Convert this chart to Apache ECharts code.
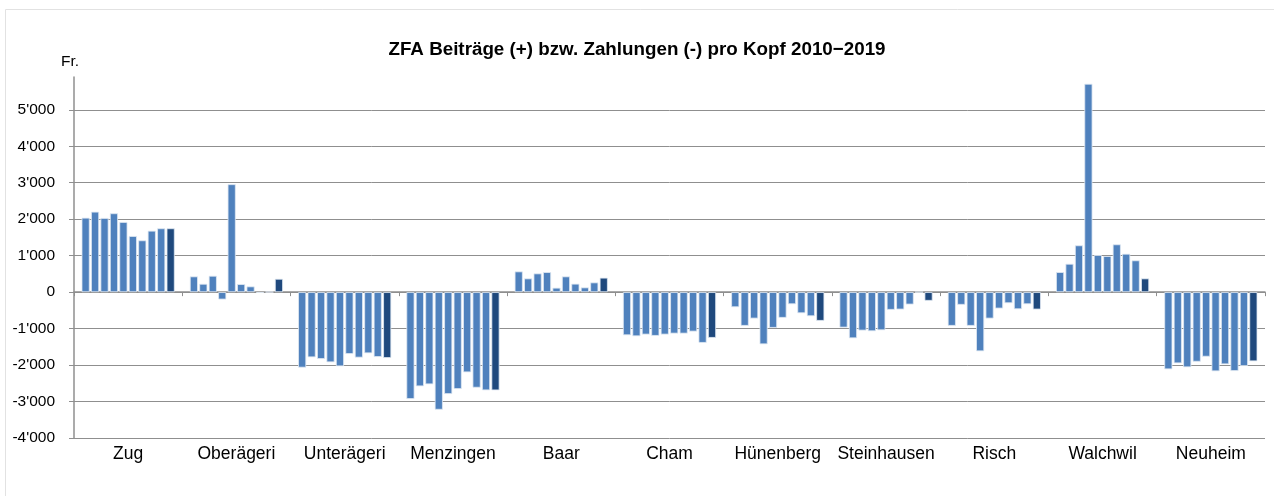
<!DOCTYPE html>
<html>
<head>
<meta charset="utf-8">
<script src="https://cdn.jsdelivr.net/npm/echarts@6/dist/echarts.min.js"></script>
<style>
html,body{margin:0;padding:0;background:#fff;}
#chart{width:1274px;height:496px;}
</style>
</head>
<body>
<div id="chart"></div>
<script>
const categories = ['Zug','Oberägeri','Unterägeri','Menzingen','Baar','Cham','Hünenberg','Steinhausen','Risch','Walchwil','Neuheim'];
const years = ['2010','2011','2012','2013','2014','2015','2016','2017','2018','2019'];
// values per municipality, 2010..2019 (Fr. per capita)
const zug        = [2041, 2206, 2033, 2162, 1923, 1538, 1420, 1684, 1750, 1750];
const oberaegeri = [431, 228, 448, -201, 2959, 220, 157, -20, 5, 365];
const unteraegeri= [-2069, -1786, -1832, -1923, -2033, -1695, -1794, -1676, -1777, -1805];
const menzingen  = [-2931, -2582, -2527, -3223, -2794, -2656, -2198, -2619, -2692, -2692];
const baar       = [568, 376, 513, 549, 121, 431, 231, 129, 266, 396];
const cham       = [-1181, -1209, -1162, -1198, -1162, -1135, -1135, -1080, -1390, -1253];
const huenenberg = [-412, -923, -723, -1429, -978, -703, -330, -577, -659, -786];
const steinhausen= [-970, -1264, -1052, -1071, -1044, -484, -475, -338, 0, -236];
const risch      = [-923, -346, -923, -1621, -723, -448, -302, -467, -330, -475];
const walchwil   = [549, 777, 1283, 5714, 1016, 989, 1310, 1052, 871, 376];
const neuheim    = [-2115, -1951, -2060, -1907, -1769, -2170, -1978, -2162, -2025, -1896];
const rows = [zug, oberaegeri, unteraegeri, menzingen, baar, cham, huenenberg, steinhausen, risch, walchwil, neuheim];

function fmt(v){
  const s = Math.abs(Math.round(v)).toString().replace(/\B(?=(\d{3})+(?!\d))/g, "'");
  return (v < 0 ? '-' : '') + s;
}

const FONT = 'Liberation Sans, Arial, sans-serif';
const gridColor = '#8f8f8f';
const series = years.map((y, i) => ({
  name: y,
  type: 'bar',
  xAxisIndex: 0,
  data: rows.map(r => r[i]),
  barGap: '17%',
  barCategoryGap: '14%',
  itemStyle: {
    color: i === years.length - 1 ? '#1f497d' : '#4f81bd',
    borderColor: '#dfe8f3',
    borderWidth: 0.8
  },
  emphasis: {disabled: true},
  animation: false
}));

const chart = echarts.init(document.getElementById('chart'), null, {renderer: 'canvas'});
chart.setOption({
  animation: false,
  backgroundColor: '#fff',
  textStyle: {fontFamily: FONT},
  title: {
    text: 'ZFA Beiträge (+) bzw. Zahlungen (-) pro Kopf 2010−2019',
    left: 'center',
    top: 35,
    textStyle: {fontSize: 18.8, fontWeight: 'bold', color: '#000', fontFamily: FONT}
  },
  graphic: [
    {type: 'rect', shape: {x: 5.5, y: 9.5, width: 1290, height: 520}, style: {fill: 'none', stroke: '#e2e2e2', lineWidth: 1}, silent: true},
    {type: 'text', left: 61, top: 54, style: {text: 'Fr.', fontSize: 15.5, fill: '#000', fontFamily: FONT}}
  ],
  grid: {left: 74, right: 9, top: 77, bottom: 58, containLabel: false},
  xAxis: [
    {
      type: 'category',
      data: categories,
      position: 'bottom',
      axisLine: {show: false, onZero: false},
      axisTick: {show: false},
      axisLabel: {color: '#000', fontSize: 17.5, margin: 7, interval: 0, fontFamily: FONT},
      splitLine: {show: false}
    },
    {
      type: 'category',
      data: categories,
      position: 'bottom',
      axisLine: {show: true, onZero: true, lineStyle: {color: gridColor, width: 1.5}},
      axisTick: {show: true, length: 4, interval: 0, lineStyle: {color: gridColor}},
      axisLabel: {show: false},
      splitLine: {show: false}
    }
  ],
  yAxis: {
    type: 'value',
    min: -4000,
    max: 5900,
    interval: 1000,
    axisLine: {show: true, lineStyle: {color: gridColor, width: 1.5}},
    axisTick: {show: true, length: 5, lineStyle: {color: gridColor}},
    axisLabel: {color: '#000', fontSize: 15.5, margin: 19, showMaxLabel: false, formatter: v => fmt(v), fontFamily: FONT},
    splitLine: {show: true, showMaxLine: false, lineStyle: {color: gridColor, width: 1}}
  },
  series: series
});
</script>
</body>
</html>
